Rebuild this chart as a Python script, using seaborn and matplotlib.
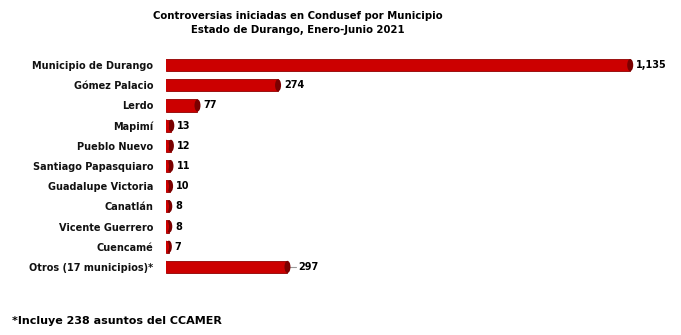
import matplotlib
matplotlib.use("Agg")
import matplotlib.pyplot as plt
import seaborn as sns
import pandas as pd
from matplotlib.patches import Ellipse

municipios = ["Municipio de Durango", "Gómez Palacio", "Lerdo", "Mapimí", "Pueblo Nuevo",
              "Santiago Papasquiaro", "Guadalupe Victoria", "Canatlán", "Vicente Guerrero",
              "Cuencamé", "Otros (17 municipios)*"]
controversias = [1135, 274, 77, 13, 12, 11, 10, 8, 8, 7, 297]
etiquetas = ["1,135", "274", "77", "13", "12", "11", "10", "8", "8", "7", "297"]

df = pd.DataFrame({"municipio": municipios, "valor": controversias})

sns.set_theme(style="white")
plt.rcParams["font.family"] = ["DejaVu Sans"]

fig = plt.figure(figsize=(6.81, 3.35), dpi=100)
ax = fig.add_axes([166/681, 1-277/335, 509/681, 222/335])

sns.barplot(data=df, y="municipio", x="valor", orient="h", color="#CC0000",
            width=0.6, saturation=1, edgecolor="#900000", linewidth=0.6, ax=ax)

xmax = 509/0.409
ax.set_xlim(0, xmax)
ax.set_ylim(10.5, -0.5)

px_per_unit = 509/xmax
cap_w = 6/px_per_unit
for i, v in enumerate(controversias):
    ax.add_patch(Ellipse((v, i), cap_w, 0.6, facecolor="#7A0000", edgecolor="none", zorder=3))
    ax.add_patch(Ellipse((0, i), cap_w, 0.6, facecolor="#CC0000", edgecolor="none", zorder=3))

for i, (v, lab) in enumerate(zip(controversias, etiquetas)):
    off = 6/px_per_unit
    if lab == "297":
        ax.plot([v + 2/px_per_unit, v + 9/px_per_unit], [i, i], color="#999999", lw=0.8)
        off = 11/px_per_unit
    ax.text(v + off, i, lab, va="center", ha="left", fontsize=7, fontweight="bold", color="black")

ax.set_xlabel("")
ax.set_ylabel("")
ax.set_xticks([])
ax.tick_params(axis="y", length=0, pad=9)
for t in ax.get_yticklabels():
    t.set_fontsize(7)
    t.set_fontweight("bold")
    t.set_color("#111111")
for s in ax.spines.values():
    s.set_visible(False)

fig.text(298/681, 1-23/335, "Controversias iniciadas en Condusef por Municipio\nEstado de Durango, Enero-Junio 2021",
         ha="center", va="center", fontsize=7.3, fontweight="bold", linespacing=1.5, color="black")
fig.text(12/681, 1-321/335, "*Incluye 238 asuntos del CCAMER", ha="left", va="center",
         fontsize=8, fontweight="bold", color="black")

fig.savefig("out.png", dpi=100, facecolor="white")
